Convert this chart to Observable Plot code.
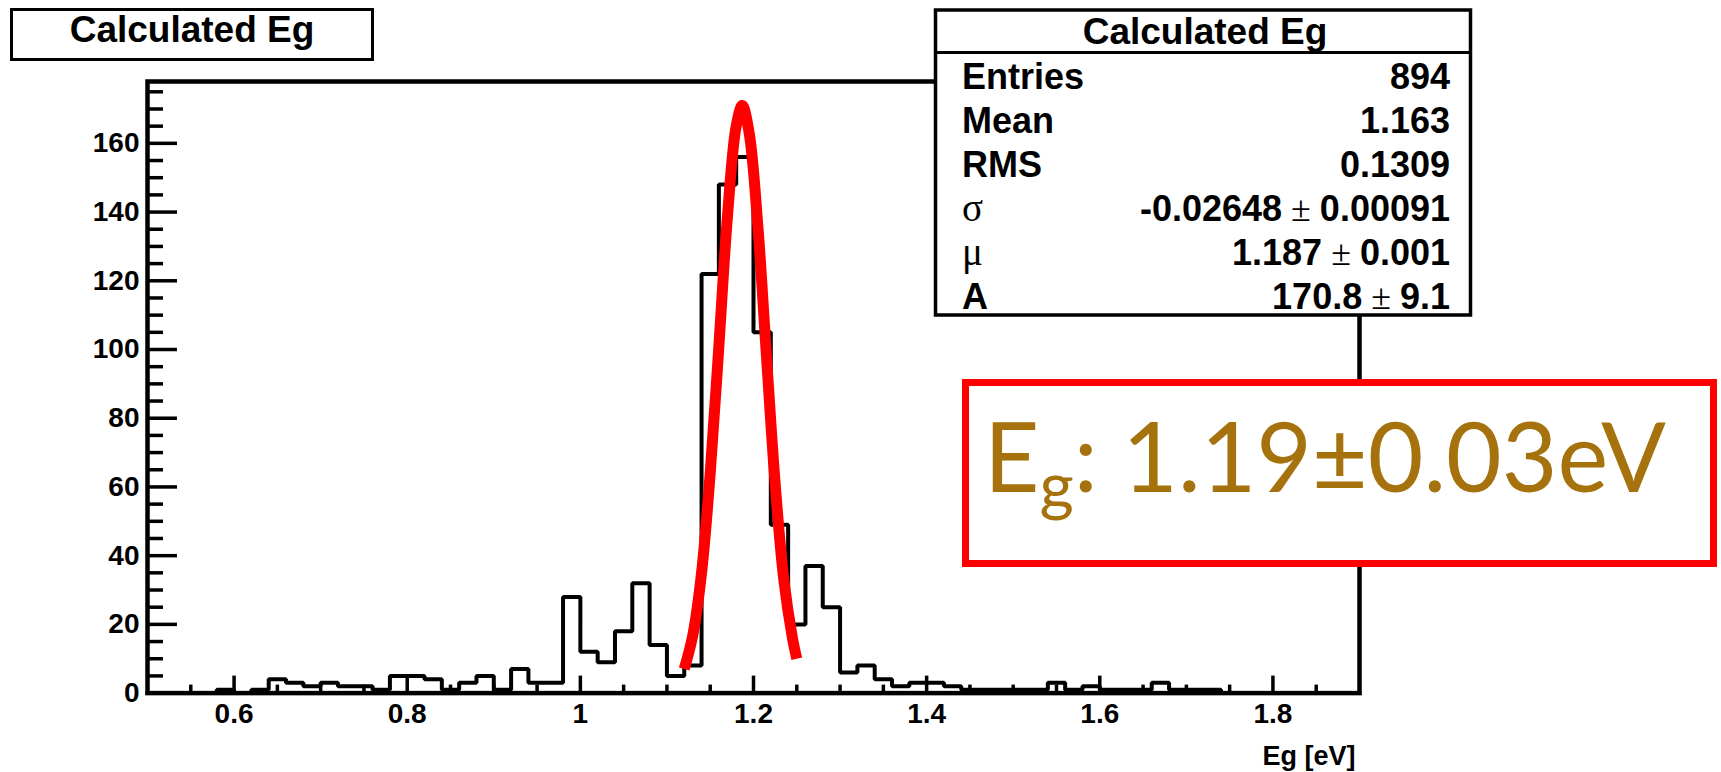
<!DOCTYPE html>
<html><head><meta charset="utf-8">
<script src="https://cdn.jsdelivr.net/npm/d3@7"></script>
<script src="https://cdn.jsdelivr.net/npm/@observablehq/plot@0.6"></script>
<style>
html,body{margin:0;padding:0;background:#fff;}
#chart{position:relative;width:1721px;height:772px;overflow:hidden;}
</style></head><body><div id="chart"></div>
<script>
// ---- data ----
const binStart = 0.5;
const binWidth = 0.02;
const counts = [
  0, 0, 0, 0, 1, 0, 1, 4, 3, 2,      // 0.50 - 0.70
  3, 2, 2, 1, 5, 5, 4, 1, 3, 5,      // 0.70 - 0.90
  1, 7, 3, 3, 28, 12, 9, 18, 32, 14, // 0.90 - 1.10
  5, 8, 122, 148, 156, 105, 49, 20, 37, 25, // 1.10 - 1.30
  6, 8, 4, 2, 3, 3, 2, 1, 1, 1,      // 1.30 - 1.50
  1, 1, 3, 1, 2, 1, 1, 1, 3, 1,      // 1.50 - 1.70
  1, 1, 0, 0, 0, 0, 0, 0, 0, 0       // 1.70 - 1.90
];
const fitX = [1.120, 1.130, 1.140, 1.150, 1.160, 1.170, 1.180, 1.187, 1.195, 1.205, 1.215, 1.225, 1.235, 1.245, 1.250];
const fitY = [7, 17, 35, 64, 101, 139, 165, 171, 163, 136, 98, 61, 33, 16, 10];
const xTicks = [0.6, 0.8, 1, 1.2, 1.4, 1.6, 1.8];
const yTicks = [0, 20, 40, 60, 80, 100, 120, 140, 160];
const xLabel = "Eg [eV]";
const titleText = "Calculated Eg";
const statsLabels = ["Entries", "Mean", "RMS", "σ", "μ", "A"];
const statsValues = ["894", "1.163", "0.1309", "-0.02648 ± 0.00091", "1.187 ± 0.001", "170.8 ± 9.1"];
const egMain = "E", egSub = "g", egRest = ": 1.19±0.03eV";

// ---- layout ----
const W = 1721, H = 772;
const mL = 147, mR = W - 1359, mT = 81, mB = H - 692.6;
const frameW = W - mL - mR, frameH = H - mT - mB;

const histPts = counts.map((c, i) => ({x: binStart + i * binWidth, y: c}))
  .concat([{x: binStart + counts.length * binWidth, y: counts[counts.length - 1]}]);
const fitPts = fitX.map((x, i) => ({x, y: fitY[i]}));
const xMinor = d3.range(11, 38).map(k => k * 0.05).filter(v => !xTicks.some(t => Math.abs(t - v) < 1e-6));
const yMinor = d3.range(1, 36).map(k => k * 5).filter(v => v % 20 !== 0);

const font = "'Liberation Sans', Arial, Helvetica, sans-serif";
const serif = "'Liberation Serif', 'Times New Roman', serif";

const svg = Plot.plot({
  width: W, height: H,
  marginLeft: mL, marginRight: mR, marginTop: mT, marginBottom: mB,
  x: {domain: [0.5, 1.9], label: null},
  y: {domain: [0, 178], label: null},
  style: {fontFamily: font, fontWeight: "bold", color: "#000", background: "#fff", overflow: "visible"},
  marks: [
    Plot.line(histPts, {x: d => d.x, y: d => d.y, curve: "step-after", stroke: "#000", strokeWidth: 4, strokeLinejoin: "miter", strokeLinecap: "square"}),
    Plot.line(fitPts, {x: d => d.x, y: d => d.y, curve: "catmull-rom", stroke: "#ff0000", strokeWidth: 11, strokeLinecap: "butt"}),
    Plot.tickX(xTicks, {x: d => d, insetTop: frameH - 17, stroke: "#000", strokeWidth: 3.5}),
    Plot.tickX(xMinor, {x: d => d, insetTop: frameH - 8, stroke: "#000", strokeWidth: 3.5}),
    Plot.tickY(yTicks, {y: d => d, insetRight: frameW - 30, stroke: "#000", strokeWidth: 3.5}),
    Plot.tickY(yMinor, {y: d => d, insetRight: frameW - 16, stroke: "#000", strokeWidth: 3.5}),
    Plot.frame({stroke: "#000", strokeWidth: 4.5}),
    Plot.axisX(xTicks, {tickSize: 0, tickPadding: 10, fontSize: 28, label: null, tickFormat: d => String(d)}),
    Plot.axisY(yTicks, {tickSize: 0, tickPadding: 8, fontSize: 28, label: null, tickFormat: d => String(d)}),
    Plot.text([xLabel], {frameAnchor: "bottom-right", text: d => d, textAnchor: "end", lineAnchor: "bottom", dy: 72, dx: -4, fontSize: 27})
  ]
});
document.getElementById("chart").appendChild(svg);

// ---- overlays (ROOT title box, stats box, annotation) ----
const g = d3.select(svg).append("g").attr("class", "overlays");

// title box
g.append("rect").attr("x", 11.5).attr("y", 9.5).attr("width", 361).attr("height", 50)
  .attr("fill", "#fff").attr("stroke", "#000").attr("stroke-width", 3);
g.append("text").attr("x", 192).attr("y", 42).attr("text-anchor", "middle")
  .style("font-family", font).style("font-weight", "bold").style("font-size", "37px").text(titleText);

// stats box
g.append("rect").attr("x", 935.5).attr("y", 10).attr("width", 535).attr("height", 305)
  .attr("fill", "#fff").attr("stroke", "#000").attr("stroke-width", 3.5);
g.append("line").attr("x1", 935.5).attr("x2", 1470.5).attr("y1", 52.5).attr("y2", 52.5)
  .attr("stroke", "#000").attr("stroke-width", 3);
g.append("text").attr("x", 1205).attr("y", 44).attr("text-anchor", "middle")
  .style("font-family", font).style("font-weight", "bold").style("font-size", "37px").text(titleText);

const rowY = [88.8, 132.8, 176.8, 220.8, 264.8, 308.6];
statsLabels.forEach((lab, i) => {
  const greek = (lab === "σ" || lab === "μ");
  g.append("text").attr("x", 962).attr("y", rowY[i]).attr("text-anchor", "start")
    .style("font-family", greek ? serif : font)
    .style("font-weight", greek ? "normal" : "bold")
    .style("font-size", greek ? "39px" : "36px").text(lab);
  const t = g.append("text").attr("x", 1450).attr("y", rowY[i]).attr("text-anchor", "end")
    .style("font-family", font).style("font-weight", "bold").style("font-size", "36px");
  const parts = statsValues[i].split(" ± ");
  t.append("tspan").text(parts[0]);
  if (parts.length > 1) {
    t.append("tspan").text(" ± ").style("font-family", serif).style("font-weight", "normal");
    t.append("tspan").text(parts[1]);
  }
});

// annotation box
g.append("rect").attr("x", 965.5).attr("y", 382.5).attr("width", 748).attr("height", 181)
  .attr("fill", "#fff").attr("stroke", "#ff0000").attr("stroke-width", 7);
const eg = g.append("text").attr("x", 984).attr("y", 492).attr("text-anchor", "start")
  .style("font-family", "Lato, 'Open Sans', sans-serif").style("font-weight", "normal")
  .style("font-size", "96px").attr("fill", "#a6720d");
eg.append("tspan").text(egMain);
eg.append("tspan").attr("dy", 17).style("font-size", "66px").text(egSub);
eg.append("tspan").attr("dy", -17).text(egRest);
</script>
</body></html>
